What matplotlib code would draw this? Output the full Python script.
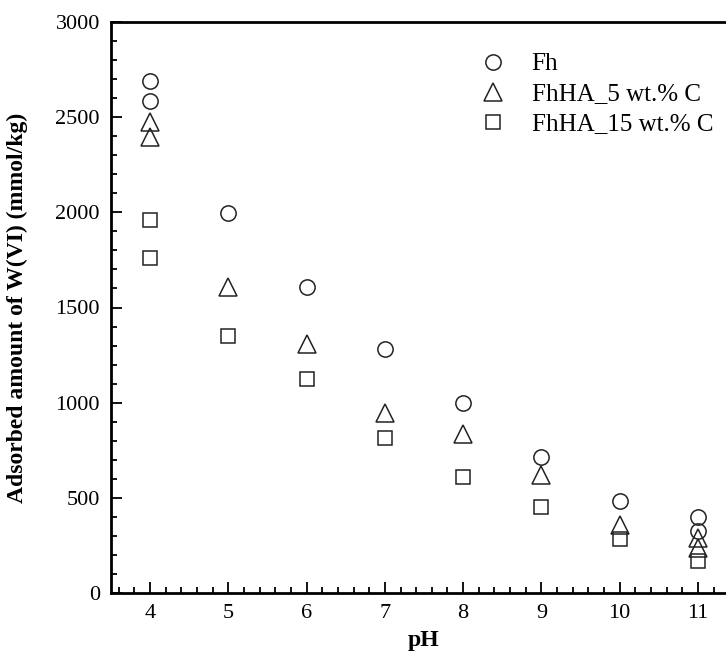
import matplotlib
matplotlib.use("Agg")
import matplotlib.pyplot as plt
from matplotlib.ticker import MultipleLocator

# adsorbed W(VI) vs pH, repeated runs at pH 4 and 11
fh_ph = [4, 4, 5, 6, 7, 8, 9, 10, 11, 11]
fh_ads = [2690, 2587, 1998, 1610, 1284, 997, 712, 482, 401, 325]

c5_ph = [4, 4, 5, 6, 7, 8, 9, 10, 11, 11]
c5_ads = [2474, 2398, 1607, 1308, 947, 837, 620, 355, 289, 235]

c15_ph = [4, 4, 5, 6, 7, 8, 9, 10, 11]
c15_ads = [1960, 1761, 1349, 1122, 815, 610, 450, 285, 169]

labels = ["Fh", "FhHA_5 wt.% C", "FhHA_15 wt.% C"]

plt.rcParams["font.family"] = ["Liberation Serif", "DejaVu Serif"]
plt.rcParams["mathtext.default"] = "regular"

W, H = 726, 668
fig = plt.figure(figsize=(W / 100, H / 100), dpi=100)
ax = fig.add_axes([111 / W, 75 / H, 626 / W, 571 / H])

ink = "#222222"
style = dict(linestyle="none", markerfacecolor="none", markeredgecolor=ink,
             markeredgewidth=1.1)
ax.plot(fh_ph, fh_ads, marker="o", markersize=11, label=labels[0], **style)
ax.plot(c5_ph, c5_ads, marker="^", markersize=12.5, label=labels[1], **style)
ax.plot(c15_ph, c15_ads, marker="s", markersize=9.5, label=labels[2], **style)

ax.set_xlim(3.5, 11.5)
ax.set_ylim(0, 3000)
ax.xaxis.set_major_locator(MultipleLocator(1))
ax.xaxis.set_minor_locator(MultipleLocator(0.2))
ax.yaxis.set_major_locator(MultipleLocator(500))
ax.yaxis.set_minor_locator(MultipleLocator(100))

for side in ["left", "bottom", "top", "right"]:
    ax.spines[side].set_linewidth(2.0)
ax.tick_params(which="both", direction="in", top=False, right=False,
               width=1.3, labelsize=16, colors="black")
ax.tick_params(which="major", length=8, pad=8)
ax.tick_params(which="minor", length=4.5)

ax.set_xlabel("pH", fontsize=17, fontweight="bold", labelpad=5)
ax.set_ylabel("Adsorbed amount of W(VI) (mmol/kg)", fontsize=17,
              fontweight="bold", labelpad=20)

ax.legend(loc="upper left", bbox_to_anchor=(480 / W, 1 - 53 / H),
          bbox_transform=fig.transFigure, frameon=False, fontsize=18,
          numpoints=1, handlelength=1.0, handletextpad=1.06,
          labelspacing=0.3, borderpad=0, borderaxespad=0)

fig.savefig("out.png", dpi=100)
